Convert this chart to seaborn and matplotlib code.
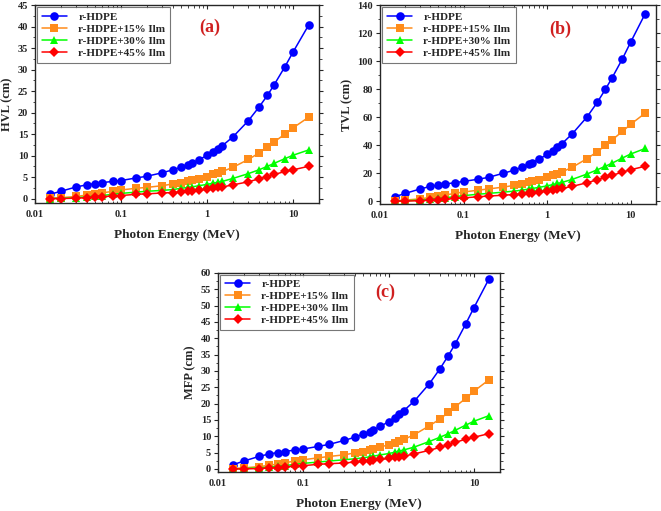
import pandas as pd
import matplotlib
matplotlib.use("Agg")
import matplotlib.pyplot as plt
import matplotlib.ticker as mticker
from matplotlib.lines import Line2D
import seaborn as sns

energy = [0.015, 0.02, 0.03, 0.04, 0.05, 0.06, 0.08, 0.1, 0.15, 0.2, 0.3, 0.4,
          0.5, 0.6, 0.662, 0.8, 1, 1.173, 1.332, 1.5, 2, 3, 4, 5, 6, 8, 10, 15]

series = ["r-HDPE", "r-HDPE+15% Ilm", "r-HDPE+30% Ilm", "r-HDPE+45% Ilm"]

hvl_0 = [1.0, 1.7, 2.7, 3.2, 3.5, 3.7, 4.0, 4.2, 4.8, 5.2, 6.0, 6.7, 7.3, 7.9,
         8.2, 9.0, 10.1, 10.9, 11.6, 12.3, 14.4, 18.1, 21.3, 24.0, 26.5, 30.7, 34.2, 40.3]
hvl_15 = [0.1, 0.2, 0.5, 0.8, 1.0, 1.3, 1.7, 2.0, 2.4, 2.6, 3.0, 3.4, 3.7, 4.1,
          4.3, 4.6, 5.1, 5.6, 5.9, 6.3, 7.3, 9.1, 10.6, 12.0, 13.2, 15.0, 16.5, 18.9]
hvl_30 = [0.0, 0.05, 0.2, 0.4, 0.6, 0.7, 1.0, 1.2, 1.5, 1.7, 1.9, 2.1, 2.4, 2.6,
          2.7, 3.0, 3.3, 3.6, 3.8, 4.0, 4.7, 5.8, 6.7, 7.5, 8.2, 9.3, 10.1, 11.3]
hvl_45 = [0.0, 0.0, 0.1, 0.2, 0.3, 0.4, 0.6, 0.7, 1.0, 1.1, 1.3, 1.4, 1.6, 1.7,
          1.8, 2.0, 2.2, 2.4, 2.6, 2.7, 3.2, 3.9, 4.6, 5.1, 5.6, 6.3, 6.7, 7.5]

tvl_0 = [3.1, 5.5, 8.6, 10.5, 11.5, 12.2, 13.2, 14.1, 15.6, 17.0, 19.9, 22.0, 24.2, 26.3,
         27.5, 29.9, 33.3, 36.1, 38.8, 40.9, 48.0, 60.0, 70.6, 79.9, 88.0, 101.7, 113.4, 134.0]
tvl_15 = [0.3, 0.7, 1.6, 2.6, 3.4, 4.3, 5.6, 6.5, 7.8, 8.7, 10.0, 11.2, 12.3, 13.5,
          14.2, 15.4, 17.0, 18.4, 19.6, 20.8, 24.1, 30.3, 35.3, 39.8, 43.7, 49.8, 54.8, 62.9]
tvl_30 = [0.0, 0.2, 0.7, 1.3, 1.9, 2.4, 3.2, 3.9, 4.9, 5.5, 6.4, 7.1, 7.8, 8.6,
          9.0, 9.8, 10.9, 11.8, 12.6, 13.3, 15.5, 19.3, 22.4, 24.9, 27.1, 30.8, 33.6, 37.6]
tvl_45 = [0.0, 0.0, 0.3, 0.6, 1.0, 1.3, 1.9, 2.3, 3.1, 3.6, 4.2, 4.7, 5.2, 5.8,
          6.0, 6.6, 7.3, 7.9, 8.5, 9.0, 10.5, 13.1, 15.2, 16.9, 18.4, 20.7, 22.4, 24.9]

mfp_0 = [1.3, 2.4, 3.8, 4.6, 5.0, 5.3, 5.8, 6.1, 6.9, 7.5, 8.7, 9.7, 10.6, 11.4,
         11.9, 13.0, 14.5, 15.7, 16.8, 17.8, 20.8, 26.1, 30.7, 34.7, 38.2, 44.4, 49.4, 58.2]
mfp_15 = [0.1, 0.3, 0.7, 1.1, 1.5, 1.9, 2.4, 2.8, 3.4, 3.8, 4.3, 4.9, 5.3, 5.9,
          6.2, 6.7, 7.4, 8.0, 8.5, 9.0, 10.5, 13.2, 15.3, 17.3, 19.0, 21.6, 23.8, 27.3]
mfp_30 = [0.0, 0.1, 0.3, 0.6, 0.8, 1.0, 1.4, 1.7, 2.1, 2.4, 2.8, 3.1, 3.4, 3.7,
          3.9, 4.3, 4.7, 5.1, 5.5, 5.8, 6.7, 8.4, 9.7, 10.8, 11.8, 13.4, 14.6, 16.3]
mfp_45 = [0.0, 0.0, 0.1, 0.3, 0.4, 0.6, 0.8, 1.0, 1.4, 1.6, 1.8, 2.1, 2.3, 2.5,
          2.6, 2.9, 3.2, 3.5, 3.7, 3.9, 4.6, 5.7, 6.6, 7.4, 8.1, 9.1, 9.7, 10.8]

colors = ["#0000FF", "#FF8C1A", "#00FF00", "#FF0000"]
markers = ["o", "s", "^", "D"]
msizes = [6.2, 5.4, 5.6, 4.8]

sns.set_style("ticks")
plt.rcParams["font.family"] = ["Liberation Serif", "DejaVu Serif"]
plt.rcParams["font.weight"] = "bold"


def long_df(cols):
    rows = []
    for name, vals in zip(series, cols):
        for e, v in zip(energy, vals):
            rows.append({"E": e, "val": v, "series": name})
    return pd.DataFrame(rows)


def draw(ax, cols, ylabel, tag, ylim, ystep, tagpos):
    df = long_df(cols)
    sns.lineplot(data=df, x="E", y="val", hue="series", style="series",
                 palette=colors, markers=markers, dashes=False, legend=False,
                 markersize=6.2, markeredgewidth=0, linewidth=1.1, ax=ax)
    for ln in ax.lines:
        m = ln.get_marker()
        if m in markers:
            ln.set_markersize(msizes[markers.index(m)])
    ax.set_xscale("log")
    ax.set_xlim(0.01, 20)
    ax.set_ylim(*ylim)
    ax.yaxis.set_major_locator(mticker.MultipleLocator(ystep))
    ax.xaxis.set_major_locator(mticker.FixedLocator([0.01, 0.1, 1, 10]))
    ax.xaxis.set_major_formatter(mticker.FixedFormatter(["0.01", "0.1", "1", "10"]))
    ax.yaxis.set_minor_locator(mticker.MultipleLocator(ystep / 2))
    ax.tick_params(axis="both", which="major", labelsize=7.5, length=3, width=0.8, pad=2)
    ax.tick_params(axis="x", which="both", direction="in", top=True)
    ax.tick_params(axis="x", which="major", pad=5)
    ax.tick_params(axis="y", which="both", direction="out", right=True)
    ax.tick_params(which="minor", length=1.8, width=0.6)
    for lbl in ax.get_xticklabels() + ax.get_yticklabels():
        lbl.set_fontweight("bold")
    for s in ax.spines.values():
        s.set_linewidth(1.0)
    ax.set_xlabel("Photon Energy (MeV)", fontsize=9.5, fontweight="bold", labelpad=7)
    ax.set_ylabel(ylabel, fontsize=9, fontweight="bold", labelpad=3)
    handles = [Line2D([], [], color=c, marker=m, markersize=s, markeredgewidth=0,
                      linewidth=1.1) for c, m, s in zip(colors, markers, msizes)]
    leg = ax.legend(handles, series, loc="upper left", fontsize=8, handlelength=2.3,
                    frameon=True, fancybox=False, borderaxespad=0.15,
                    labelspacing=0.2, borderpad=0.45, handletextpad=1.0,
                    alignment="left")
    leg.get_frame().set_edgecolor("#555555")
    leg.get_frame().set_linewidth(0.8)
    for t in leg.get_texts():
        t.set_fontweight("bold")
        t.set_horizontalalignment("left")
    ax.text(tagpos[0], tagpos[1], tag, transform=ax.transAxes, color="#D02020",
            fontsize=13, fontweight="bold", ha="center", va="center")


fig = plt.figure(figsize=(6.61, 5.11), dpi=100)
ax_a = fig.add_axes([0.053, 0.603, 0.430, 0.387])
ax_b = fig.add_axes([0.575, 0.601, 0.417, 0.389])
ax_c = fig.add_axes([0.330, 0.076, 0.426, 0.390])

draw(ax_a, [hvl_0, hvl_15, hvl_30, hvl_45], "HVL (cm)", "(a)", (-1, 45), 5, (0.616, 0.89))
draw(ax_b, [tvl_0, tvl_15, tvl_30, tvl_45], "TVL (cm)", "(b)", (-2, 140), 20, (0.652, 0.88))
draw(ax_c, [mfp_0, mfp_15, mfp_30, mfp_45], "MFP (cm)", "(c)", (-1, 60), 5, (0.592, 0.90))

fig.savefig("out.png", dpi=100)
